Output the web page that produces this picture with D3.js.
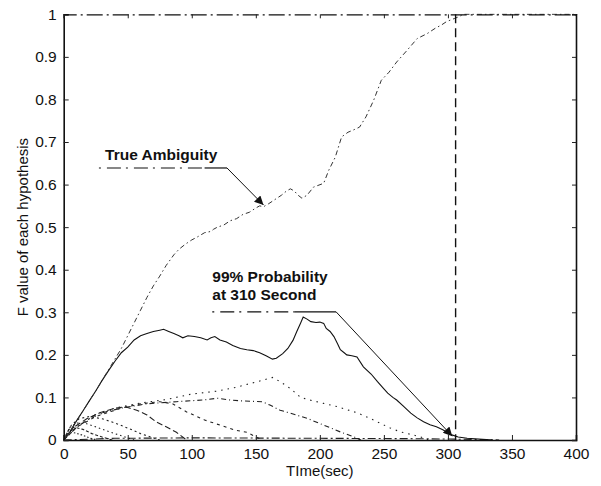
<!DOCTYPE html>
<html lang="en">
<head>
    <meta charset="UTF-8">
    <title>F value of each hypothesis</title>
    <script src="https://d3js.org/d3.v7.min.js"></script>
    <style>
        body { margin: 0; background: #fff; }
        svg text { font-family: "Liberation Sans", Arial, sans-serif; fill: #111; }
    </style>
</head>
<body>
    <div id="chart"></div>

    <script>
        // data: [time (sec), F value]
        var trueAmbiguity = [[0,0],[5,0.02],[10,0.045],[15,0.068],[20,0.092],[25,0.115],[30,0.14],[35,0.165],[40,0.19],[45,0.215],
            [50,0.245],[55,0.275],[60,0.305],[65,0.335],[70,0.362],[75,0.385],[80,0.41],[86,0.435],[90,0.448],[95,0.46],[100,0.47],
            [105,0.478],[110,0.487],[115,0.49],[117,0.495],[120,0.5],[125,0.505],[130,0.515],[135,0.52],[140,0.53],[145,0.535],
            [150,0.545],[153,0.55],[156,0.548],[160,0.555],[165,0.565],[170,0.575],[174,0.585],[177,0.59],[180,0.585],[183,0.575],
            [186,0.568],[190,0.575],[195,0.594],[203,0.603],[207,0.634],[212,0.664],[217,0.712],[222,0.723],[226,0.728],[231,0.735],
            [236,0.759],[242,0.798],[248,0.845],[254,0.864],[260,0.888],[268,0.915],[276,0.943],[284,0.955],[290,0.967],[295,0.975],
            [299,0.983],[305,0.99],[309,0.995],[312,1],[400,1]];

        var hypSolid = [[0,0],[5,0.02],[10,0.045],[15,0.068],[20,0.092],[25,0.115],[30,0.14],[35,0.163],[40,0.185],[45,0.205],
            [50,0.218],[55,0.235],[60,0.245],[65,0.25],[70,0.255],[75,0.258],[78,0.26],[82,0.255],[86,0.25],[90,0.245],[93,0.24],
            [97,0.245],[102,0.243],[107,0.24],[112,0.235],[115,0.24],[118,0.243],[122,0.235],[127,0.23],[132,0.222],[138,0.215],
            [143,0.212],[148,0.21],[153,0.205],[158,0.198],[163,0.19],[166,0.192],[171,0.203],[175,0.215],[179,0.234],[182,0.255],
            [185,0.275],[187,0.289],[190,0.284],[193,0.278],[197,0.276],[200,0.277],[203,0.274],[205,0.262],[208,0.255],[211,0.243],
            [214,0.225],[216,0.212],[219,0.205],[221,0.2],[225,0.198],[229,0.195],[234,0.172],[240,0.155],[245,0.137],[250,0.12],
            [253,0.11],[257,0.1],[260,0.094],[265,0.08],[271,0.063],[276,0.052],[281,0.043],[286,0.036],[291,0.031],[296,0.024],
            [299,0.019],[303,0.012],[308,0.007],[315,0.004],[330,0.001],[335,0]];

        var hyp1 = [[0,0],[10,0.03],[20,0.05],[40,0.075],[60,0.087],[80,0.095],[100,0.108],[120,0.115],[135,0.124],[146,0.133],
            [155,0.14],[163,0.147],[169,0.137],[177,0.121],[185,0.1],[192,0.094],[203,0.086],[214,0.078],[230,0.063],[239,0.051],
            [255,0.028],[263,0.019],[278,0.008],[285,0]];
        var hyp2 = [[0,0],[10,0.03],[25,0.06],[45,0.075],[65,0.085],[88,0.09],[109,0.094],[120,0.098],[130,0.094],[138,0.092],
            [155,0.09],[161,0.082],[169,0.07],[177,0.063],[190,0.051],[203,0.035],[216,0.019],[226,0.008],[232,0]];
        var hyp3 = [[0,0],[10,0.03],[25,0.055],[45,0.075],[60,0.085],[75,0.09],[85,0.085],[96,0.066],[110,0.047],[122,0.035],
            [134,0.023],[143,0.018],[155,0]];
        var hyp4 = [[0,0],[8,0.03],[18,0.05],[28,0.064],[39,0.074],[48,0.078],[57,0.07],[65,0.059],[72,0.043],[80,0.031],
            [88,0.018],[96,0]];
        var hyp5 = [[0,0],[6,0.035],[12,0.05],[20,0.055],[30,0.05],[40,0.04],[50,0.028],[60,0.015],[70,0.005],[75,0]];
        var hyp6 = [[0,0],[5,0.03],[10,0.04],[18,0.038],[26,0.03],[35,0.02],[45,0.01],[55,0]];
        var hyp7 = [[0,0],[4,0.025],[8,0.03],[15,0.025],[22,0.015],[30,0.007],[38,0]];
        var hyp8 = [[0,0],[3,0.015],[7,0.018],[14,0.012],[20,0.005],[26,0]];
        var hyp9 = [[0,0],[40,0.004],[100,0.005],[200,0.004],[280,0.003],[330,0.001],[340,0]];

        var xTicks = [0, 50, 100, 150, 200, 250, 300, 350, 400];
        var yTicks = [0, 0.1, 0.2, 0.3, 0.4, 0.5, 0.6, 0.7, 0.8, 0.9, 1];
        var cutoffTime = 306;

        var width = 601, height = 486;
        var margin = { top: 14.3, right: 25, bottom: 46, left: 63.7 };

        var svg = d3.select("#chart").append("svg")
            .attr("width", width)
            .attr("height", height);

        var x = d3.scaleLinear().domain([0, 400]).range([margin.left, width - margin.right]);
        var y = d3.scaleLinear().domain([0, 1]).range([height - margin.bottom, margin.top]);

        svg.append("defs").append("clipPath").attr("id", "clip")
            .append("rect")
            .attr("x", x(0)).attr("y", y(1) - 1)
            .attr("width", x(400) - x(0)).attr("height", y(0) - y(1) + 1);

        var arrow = svg.select("defs").append("marker")
            .attr("id", "arrow")
            .attr("viewBox", "0 0 10 10")
            .attr("refX", 10).attr("refY", 5)
            .attr("markerWidth", 14).attr("markerHeight", 9)
            .attr("markerUnits", "userSpaceOnUse")
            .attr("orient", "auto");
        arrow.append("path").attr("d", "M0,0 L10,5 L0,10 z").attr("fill", "#111");

        var line = d3.line()
            .x(function(d) { return x(d[0]); })
            .y(function(d) { return y(d[1]); });

        var plot = svg.append("g").attr("clip-path", "url(#clip)");

        // small hypotheses, fanning out from the origin
        var smallOnes = [
            { data: hyp1, dash: "1.5,5" },
            { data: hyp2, dash: "5,3,1,3" },
            { data: hyp3, dash: "3,4" },
            { data: hyp4, dash: "6,3" },
            { data: hyp5, dash: "2,3" },
            { data: hyp6, dash: "1.5,3" },
            { data: hyp7, dash: "3,2" },
            { data: hyp8, dash: "1.5,2" },
            { data: hyp9, dash: "8,3,2,3" }
        ];

        plot.selectAll(".hyp")
            .data(smallOnes)
            .enter().append("path")
            .attr("class", "hyp")
            .attr("d", function(d) { return line(d.data); })
            .attr("fill", "none")
            .attr("stroke", "#222")
            .attr("stroke-width", 1.1)
            .attr("stroke-dasharray", function(d) { return d.dash; });

        plot.append("path")
            .attr("d", line(hypSolid))
            .attr("fill", "none")
            .attr("stroke", "#111")
            .attr("stroke-width", 1.1);

        plot.append("path")
            .attr("d", line(trueAmbiguity))
            .attr("fill", "none")
            .attr("stroke", "#333")
            .attr("stroke-width", 1)
            .attr("stroke-dasharray", "5,3,1.5,3");

        // 99% time marker
        svg.append("line")
            .attr("x1", x(cutoffTime)).attr("x2", x(cutoffTime))
            .attr("y1", y(1)).attr("y2", y(0))
            .attr("stroke", "#111")
            .attr("stroke-width", 1.4)
            .attr("stroke-dasharray", "9,5");

        // axes
        var xAxis = svg.append("g")
            .attr("transform", "translate(0," + y(0) + ")")
            .call(d3.axisBottom(x).tickValues(xTicks).tickSize(-5).tickPadding(8));
        var yAxis = svg.append("g")
            .attr("transform", "translate(" + x(0) + ",0)")
            .call(d3.axisLeft(y).tickValues(yTicks).tickSize(-5).tickPadding(7)
                .tickFormat(function(d) { return d3.format("~g")(d); }));
        var topAxis = svg.append("g")
            .attr("transform", "translate(0," + y(1) + ")")
            .call(d3.axisTop(x).tickValues(xTicks).tickSize(-4).tickFormat(""));
        var rightAxis = svg.append("g")
            .attr("transform", "translate(" + x(400) + ",0)")
            .call(d3.axisRight(y).tickValues(yTicks).tickSize(-4).tickFormat(""));

        [xAxis, yAxis, topAxis, rightAxis].forEach(function(g) {
            g.selectAll("path.domain").attr("stroke", "#111").attr("stroke-width", 1.6);
            g.selectAll(".tick line").attr("stroke", "#222");
            g.selectAll(".tick text").style("font-size", "15.5px").attr("fill", "#111");
        });
        topAxis.select("path.domain").attr("stroke-width", 1.3).attr("stroke-dasharray", "16,4,2,4");

        // axis titles
        svg.append("text")
            .attr("x", x(200)).attr("y", 476)
            .attr("text-anchor", "middle")
            .style("font-size", "15px")
            .text("TIme(sec)");

        svg.append("text")
            .attr("transform", "translate(28," + y(0.5) + ") rotate(-90)")
            .attr("text-anchor", "middle")
            .style("font-size", "15px")
            .text("F value of each hypothesis");

        // annotations
        function annotate(label, tx, ty, lineEnd, tip, solidFrom) {
            var g = svg.append("g");
            label.forEach(function(s, i) {
                g.append("text")
                    .attr("x", x(tx)).attr("y", y(ty[i]))
                    .style("font-size", "15.5px")
                    .style("font-weight", "bold")
                    .text(s);
            });
            g.append("line")
                .attr("x1", x(lineEnd[0])).attr("x2", x(solidFrom))
                .attr("y1", y(lineEnd[1])).attr("y2", y(lineEnd[1]))
                .attr("stroke", "#111").attr("stroke-width", 1.2)
                .attr("stroke-dasharray", "2,6,14,5");
            g.append("line")
                .attr("x1", x(solidFrom)).attr("x2", x(lineEnd[2]))
                .attr("y1", y(lineEnd[1])).attr("y2", y(lineEnd[1]))
                .attr("stroke", "#111").attr("stroke-width", 1.2);
            g.append("line")
                .attr("x1", x(lineEnd[2])).attr("y1", y(lineEnd[1]))
                .attr("x2", x(tip[0])).attr("y2", y(tip[1]))
                .attr("stroke", "#111").attr("stroke-width", 1)
                .attr("marker-end", "url(#arrow)");
        }

        annotate(["True Ambiguity"], 32.3, [0.657], [27.5, 0.639, 127.5], [156, 0.552], 110);
        annotate(["99% Probability", "at 310 Second"], 116, [0.371, 0.329], [116, 0.301, 212.7], [303.4, 0.009], 180);
    </script>
</body>
</html>
